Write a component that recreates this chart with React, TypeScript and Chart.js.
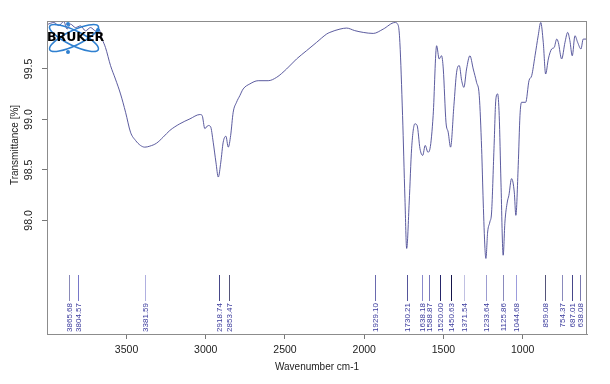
import React, { useEffect, useRef } from 'react';
import { Chart, registerables } from 'chart.js';

Chart.register(...registerables);

// Spectrum (wavenumber cm-1, transmittance %)
const wavenumbers = [
  4001, 3959, 3927, 3896, 3875, 3854, 3822, 3790, 3759, 3727, 3696, 3675, 3654, 3633, 3601, 3570, 3538, 3506,
  3475, 3443, 3412, 3385, 3353, 3311, 3269, 3227, 3164, 3100, 3037, 3023, 3006, 2985, 2970, 2953, 2936, 2921,
  2905, 2890, 2873, 2858, 2843, 2827, 2806, 2785, 2764, 2722, 2669, 2606, 2553, 2490, 2427, 2364, 2301, 2237,
  2217, 2153, 2111, 2060, 2006, 1943, 1880, 1806, 1785, 1775, 1758, 1743, 1732, 1716, 1701, 1680, 1666, 1648,
  1631, 1615, 1598, 1585, 1565, 1543, 1527, 1512, 1501, 1484, 1470, 1455, 1434, 1417, 1400, 1385, 1371, 1354,
  1333, 1312, 1291, 1274, 1259, 1249, 1238, 1232, 1221, 1207, 1196, 1181, 1169, 1158, 1148, 1137, 1123, 1112,
  1097, 1087, 1070, 1053, 1043, 1028, 1017, 1007, 981, 960, 943, 922, 902, 886, 870, 855, 838, 817, 801, 785,
  775, 754, 733, 716, 702, 687, 670, 653, 632, 618, 596,
];
const transmittance = [
  99.94, 99.96, 99.93, 99.97, 99.895, 99.944, 99.91, 99.927, 99.878, 99.91, 99.878, 99.895, 99.796, 99.713, 99.533, 99.4, 99.253, 99.071,
  98.874, 98.792, 98.743, 98.726, 98.736, 98.765, 98.825, 98.891, 98.957, 99.006, 99.049, 99.04, 98.91, 98.94, 98.93, 98.775, 98.578, 98.43,
  98.578, 98.775, 98.834, 98.726, 98.841, 99.071, 99.17, 99.236, 99.302, 99.352, 99.384, 99.384, 99.417, 99.5, 99.599, 99.681, 99.763, 99.846,
  99.862, 99.895, 99.905, 99.88, 99.862, 99.852, 99.895, 99.96, 99.93, 99.763, 99.039, 98.216, 97.723, 98.183, 98.71, 98.957, 98.94, 98.71,
  98.644, 98.743, 98.676, 98.71, 99.039, 99.73, 99.599, 99.631, 99.5, 98.973, 98.874, 98.726, 99.138, 99.467, 99.533, 99.385, 99.318, 99.5,
  99.631, 99.5, 99.368, 99.236, 98.71, 98.183, 97.723, 97.624, 97.886, 97.985, 98.084, 98.71, 99.204, 99.253, 99.039, 98.38, 97.656, 97.985,
  98.183, 98.249, 98.414, 98.281, 98.051, 98.545, 99.039, 99.17, 99.17, 99.385, 99.434, 99.631, 99.829, 99.96, 99.763, 99.45, 99.599, 99.698, 99.713, 99.796,
  99.763, 99.599, 99.763, 99.862, 99.78, 99.631, 99.829, 99.763, 99.698, 99.796, 99.796,
];

const xTicks = [1000, 1500, 2000, 2500, 3000, 3500];
const yTicks = [98.0, 98.5, 99.0, 99.5];

const peakPositions = [
  3865.68, 3804.57, 3381.59, 2918.74, 2853.47, 1929.1, 1730.21, 1638.18, 1588.87, 1520.0, 1450.63, 1371.54,
  1233.64, 1125.86, 1044.68, 859.08, 754.37, 687.01, 638.08,
];
const peakLabels = [
  '3865.68', '3804.57', '3381.59', '2918.74', '2853.47', '1929.10', '1730.21', '1638.18', '1588.87', '1520.00',
  '1450.63', '1371.54', '1233.64', '1125.86', '1044.68', '859.08', '754.37', '687.01', '638.08',
];
const peakColors = [
  '#8a8ab8', '#7878c8', '#b0b0e0', '#464688', '#55557a', '#6a6aae', '#55559a', '#8a8acc', '#7878bb', '#26266a',
  '#15154a', '#c0c0e2', '#9c9cd0', '#8a8abc', '#9c9cdc', '#55557a', '#8a8abc', '#46468a', '#7878ae',
];

const FONT = '"Liberation Sans", Arial, sans-serif';

const overlay = {
  id: 'overlay',
  afterDraw(chart: any) {
    const { ctx, chartArea, scales } = chart;
    const xs = scales.x;
    const ys = scales.y;
    ctx.save();
    // frame
    ctx.strokeStyle = '#8c8c8c';
    ctx.lineWidth = 1;
    ctx.strokeRect(chartArea.left + 0.5, chartArea.top + 0.5, chartArea.right - chartArea.left - 1, chartArea.bottom - chartArea.top);

    // peak markers
    const b = chartArea.bottom;
    peakPositions.forEach((wn, i) => {
      const x = Math.round(xs.getPixelForValue(wn)) + 0.5;
      ctx.strokeStyle = peakColors[i];
      ctx.beginPath();
      ctx.moveTo(x, b - 59);
      ctx.lineTo(x, b - 33);
      ctx.stroke();
      ctx.save();
      ctx.translate(x, b - 31);
      ctx.rotate(-Math.PI / 2);
      ctx.fillStyle = '#3a3a9c';
      ctx.font = `8px ${FONT}`;
      ctx.textAlign = 'right';
      ctx.textBaseline = 'middle';
      ctx.fillText(peakLabels[i], 0, 0);
      ctx.restore();
    });

    // y tick labels (rotated)
    ctx.fillStyle = '#222';
    ctx.font = `10.5px ${FONT}`;
    yTicks.forEach((v) => {
      const y = ys.getPixelForValue(v);
      ctx.save();
      ctx.translate(34, y);
      ctx.rotate(-Math.PI / 2);
      ctx.textAlign = 'center';
      ctx.textBaseline = 'bottom';
      ctx.fillText(v.toFixed(1), 0, 0);
      ctx.restore();
    });

    // axis titles
    ctx.font = `10px ${FONT}`;
    ctx.save();
    ctx.translate(20, 145);
    ctx.rotate(-Math.PI / 2);
    ctx.textAlign = 'center';
    ctx.textBaseline = 'bottom';
    ctx.fillText('Transmittance [%]', 0, 0);
    ctx.restore();
    ctx.textAlign = 'center';
    ctx.textBaseline = 'middle';
    ctx.fillText('Wavenumber cm-1', (chartArea.left + chartArea.right) / 2, 367);

    // logo
    const cx = 74;
    const cy = 38;
    ctx.strokeStyle = '#2f80d0';
    ctx.lineWidth = 1.6;
    [0.45, -0.45].forEach((a) => {
      ctx.beginPath();
      ctx.ellipse(cx, cy, 27, 7.5, a, 0, Math.PI * 2);
      ctx.stroke();
    });
    ctx.fillStyle = '#2f80d0';
    [[68, 24], [68, 52], [98, 30]].forEach(([px, py]) => {
      ctx.beginPath();
      ctx.arc(px, py, 2, 0, Math.PI * 2);
      ctx.fill();
    });
    ctx.fillStyle = '#000';
    ctx.font = `bold 12.5px "DejaVu Sans", sans-serif`;
    ctx.textAlign = 'left';
    ctx.textBaseline = 'middle';
    ctx.fillText('BRUKER', 47, 38, 63);
    ctx.restore();
  },
};

export default function App() {
  const ref = useRef<HTMLCanvasElement | null>(null);
  useEffect(() => {
    document.body.style.margin = '0';
    const canvas = ref.current;
    if (!canvas) return;
    const points = wavenumbers.map((w, i) => ({ x: w, y: transmittance[i] }));
    const chart = new Chart(canvas, {
      type: 'line',
      data: {
        datasets: [
          {
            data: points,
            borderColor: '#4a4a94',
            borderWidth: 0.9,
            pointRadius: 0,
            cubicInterpolationMode: 'monotone',
            fill: false,
          },
        ],
      },
      options: {
        responsive: false,
        animation: false,
        layout: { padding: { top: 21, right: 23, left: 0, bottom: 0 } },
        plugins: { legend: { display: false }, tooltip: { enabled: false } },
        scales: {
          x: {
            type: 'linear',
            reverse: true,
            min: 594,
            max: 4002,
            afterBuildTicks: (s: any) => {
              s.ticks = xTicks.map((v) => ({ value: v }));
            },
            afterFit: (s: any) => {
              s.height = 50;
            },
            ticks: {
              color: '#222',
              font: { family: FONT, size: 10.5 },
              padding: 5,
              maxRotation: 0,
              autoSkip: false,
              callback: (v: any) => String(v),
            },
            grid: { drawOnChartArea: false, tickLength: 5, color: '#777' },
            border: { color: '#8c8c8c' },
          },
          y: {
            type: 'linear',
            min: 96.876,
            max: 99.975,
            afterBuildTicks: (s: any) => {
              s.ticks = yTicks.map((v) => ({ value: v }));
            },
            afterFit: (s: any) => {
              s.width = 47;
            },
            ticks: { display: false },
            grid: { drawOnChartArea: false, tickLength: 5, color: '#777' },
            border: { color: '#8c8c8c' },
          },
        },
      },
      plugins: [overlay],
    });
    return () => chart.destroy();
  }, []);
  return <canvas ref={ref} width={610} height={384} style={{ display: 'block' }} />;
}
